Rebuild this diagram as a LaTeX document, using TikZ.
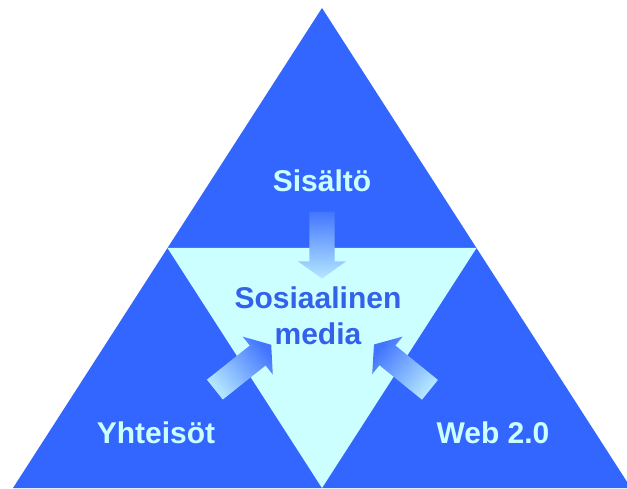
\documentclass[tikz,border=0pt]{standalone}
\usepackage{fontspec}
\setmainfont{Liberation Sans}
\usetikzlibrary{shapes.arrows,calc}

\definecolor{pyramidblue}{HTML}{3366FF}
\definecolor{mediacyan}{HTML}{CCFFFF}
\definecolor{mediatext}{HTML}{3361EA}

\def\arrowlen{72pt}
\def\bigfont{\fontsize{30}{36}\selectfont\bfseries}

\begin{document}
\begin{tikzpicture}[
    x=1pt,y=1pt,
    outer/.style={fill=pyramidblue},
    inner/.style={fill=mediacyan},
    corner/.style={font=\bigfont,text=mediacyan,inner sep=0pt},
    centre/.style={font=\bigfont,text=mediatext,align=center,inner sep=0pt},
    feed/.style={single arrow,minimum height=\arrowlen,inner xsep=0pt,inner ysep=12.5pt,
        single arrow head extend=11.5pt,single arrow tip angle=109,
        top color=pyramidblue!90!mediacyan,bottom color=mediacyan!85!pyramidblue},
]
\useasboundingbox (0,0) rectangle (627,488);
\clip (0,0) rectangle (627,488);

%% The pyramid and the turned triangle in its middle
\coordinate (apex) at (322,480);
\coordinate (left) at (13,0);
\coordinate (right) at (631,0);
\fill[outer] (left) -- (apex) -- (right) -- cycle;
\fill[inner] ($(left)!0.5!(apex)$) -- ($(apex)!0.5!(right)$)
    -- ($(left)!0.5!(right)$) -- cycle;

% Texts
\node[corner] (content) at (322,307) {Sisältö};
\node[corner] (community) at (156,55) {Yhteisöt};
\node[corner] (web) at (493,55) {Web 2.0};
\node[centre] (media) at (318,172) {Sosiaalinen\\media};

% Arrows into the middle
\node[feed,rotate=-90,minimum height=67pt] (contentarrow) at (322,247.5) {};
\node[feed,rotate=38.5,shading angle=-51.5] (communityarrow) at (239.5,118) {};
\node[feed,rotate=141,shading angle=51] (webarrow) at (405.5,118) {};

\end{tikzpicture}
\end{document}
